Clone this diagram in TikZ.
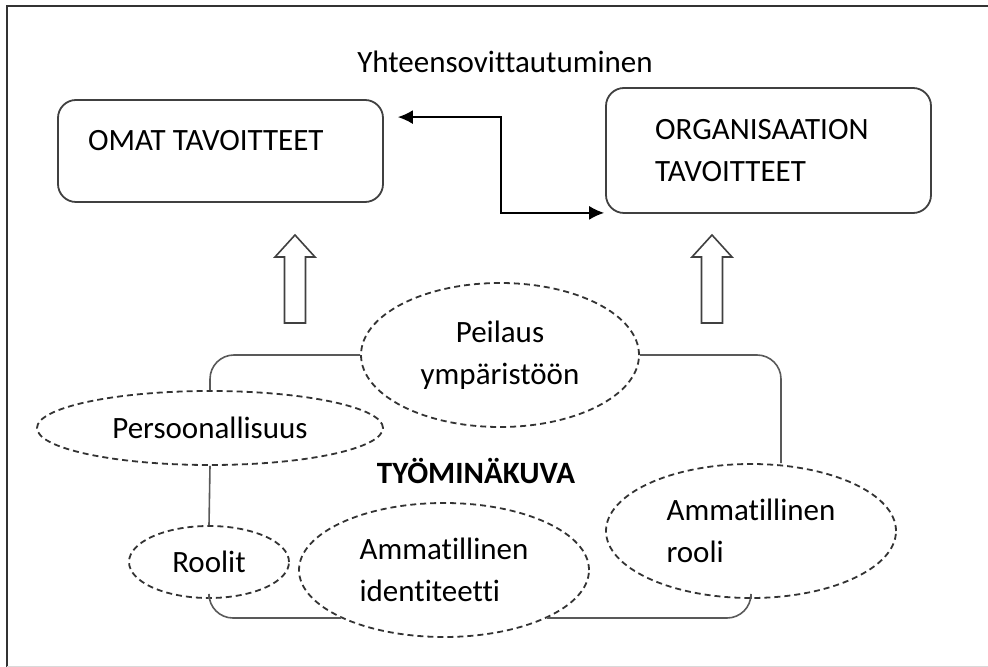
\documentclass[tikz,border=0pt]{standalone}
\usepackage{fontspec}
\setmainfont{Carlito}[Ligatures=NoCommon]
\usepackage{tikz}
\usetikzlibrary{calc,arrows.meta,positioning,shapes.geometric}
\tikzset{
  box/.style={draw=black!75,line width=0.9pt,rounded corners=9pt,inner sep=0pt},
  oval/.style={ellipse,draw=black!80,dashed,dash pattern=on 3pt off 2pt,
    line width=0.9pt,fill=white,inner sep=0pt,align=left},
  link/.style={draw=black!65,line width=0.8pt,rounded corners=12pt},
  pair/.style={{Latex[length=7.5pt,width=7pt]}-{Latex[length=7.5pt,width=7pt]},
    line width=0.8pt},
  hollow/.style={draw=black!75,line width=0.8pt,fill=white},
  every node/.style={font=\fontsize{15.5}{21}\selectfont}
}

\begin{document}
\begin{tikzpicture}[x=0.5pt,y=-0.5pt]
  \useasboundingbox (0,0) rectangle (988,667);
  % frame
  \draw[black!80,line width=1pt] (988,6) -- (7,6) -- (7,667);
  \draw[black!15,line width=0.5pt] (7,666) -- (988,666);

  % goals
  \node[box,minimum width=162.5pt,minimum height=51pt] (omat) at (220.5,151) {};
  \node[box,minimum width=162.5pt,minimum height=62.5pt] (org) at (768.5,150.5) {};
  \node[anchor=north west] (omattxt) at ([shift={(24,24)}]omat.north west) {OMAT TAVOITTEET};
  \node[anchor=north west,align=left] (orgtxt) at ([shift={(43,25)}]org.north west)
    {ORGANISAATION\\TAVOITTEET};
  \node (yht) at (505,62) {Yhteensovittautuminen};

  \coordinate (l) at ([shift={(14,18)}]omat.north east);
  \coordinate (r) at ([shift={(-1,-1)}]org.south west);
  \draw[pair] (l) -| ($(l)!.5!(r)$) |- (r);

  % block arrows
  \foreach \ax in {295,712}
    \draw[hollow] (\ax-10.5,323) -- (\ax-10.5,257) -- (\ax-20,257) -- (\ax,235)
      -- (\ax+20,257) -- (\ax+10.5,257) -- (\ax+10.5,323) -- cycle;

  % self image
  \node[oval,minimum width=139pt,minimum height=72pt,align=center] (peil) at (500,355)
    {Peilaus\\ympäristöön};
  \node[oval,minimum width=173pt,minimum height=37pt] (pers) at (210,428) {Persoonallisuus};
  \node[oval,minimum width=80pt,minimum height=36pt] (roolit) at (209,562) {Roolit};
  \node[oval,minimum width=145pt,minimum height=67pt] (amid) at (444,570)
    {Ammatillinen\\identiteetti};
  \node[oval,minimum width=145pt,minimum height=67pt] (amrooli) at (751,531)
    {Ammatillinen\\rooli};
  \node[font=\fontsize{15.5}{21}\selectfont\bfseries] (tyo) at (476,471) {TYÖMINÄKUVA};

  \draw[link] (pers.north) |- (peil.west);
  \draw[link] (peil.east) -| ([xshift=15]amrooli.north);
  \draw[link] (pers.south) -- (roolit.north);
  \draw[link] (roolit.south) |- (amid.south west);
  \draw[link] (amid.south east) -| (amrooli.south);
\end{tikzpicture}
\end{document}
